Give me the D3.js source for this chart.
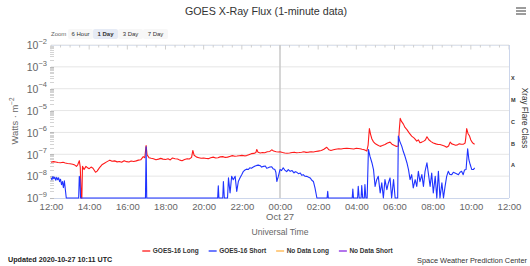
<!DOCTYPE html>
<html>
<head>
<meta charset="utf-8">
<script src="https://cdn.jsdelivr.net/npm/d3@7"></script>
<style>
  html, body { margin: 0; padding: 0; background: #fff; }
  svg { display: block; font-family: "Liberation Sans", Arial, sans-serif; }
</style>
</head>
<body>
<svg id="chart" width="530" height="266"></svg>
<script>
// GOES-16 1-minute x-ray flux (time UTC, W/m^2)
const longFlux = [
  ["12:00",4.3e-8],["12:08",4.6e-8],["12:15",4.4e-8],["12:22",4.2e-8],["12:30",4.1e-8],["12:38",4.3e-8],
  ["12:45",4.0e-8],["12:52",3.8e-8],["13:00",3.7e-8],["13:08",3.5e-8],["13:15",3.2e-8],["13:20",2.8e-8],
  ["13:24",3.3e-8],["13:29",5.1e-8],["13:32",2.6e-8],["13:35",1e-9],["13:37",1e-9],["13:39",2.8e-8],
  ["13:44",2.0e-8],["13:50",2.8e-8],["13:55",2.4e-8],["14:00",2.2e-8],["14:06",2.6e-8],["14:12",2.3e-8],
  ["14:20",1.5e-8],["14:25",1.7e-8],["14:32",2.4e-8],["14:40",3.3e-8],["14:48",3.9e-8],["14:55",4.5e-8],
  ["15:05",5.4e-8],["15:12",4.8e-8],["15:20",5.0e-8],["15:28",4.5e-8],["15:35",4.7e-8],["15:42",4.3e-8],
  ["15:50",5.1e-8],["15:58",4.6e-8],["16:05",4.4e-8],["16:12",4.9e-8],["16:20",4.7e-8],["16:28",5.0e-8],
  ["16:35",5.4e-8],["16:42",5.6e-8],["16:50",7.8e-8],["16:55",7.0e-8],["16:59",2.5e-7],["17:02",9.5e-8],
  ["17:08",7.0e-8],["17:15",6.6e-8],["17:22",6.3e-8],["17:30",5.6e-8],["17:38",6.0e-8],["17:45",6.5e-8],
  ["17:52",6.0e-8],["18:00",5.8e-8],["18:08",6.2e-8],["18:15",5.5e-8],["18:22",6.8e-8],["18:30",6.3e-8],
  ["18:38",6.1e-8],["18:45",5.4e-8],["18:52",5.1e-8],["19:00",5.8e-8],["19:08",6.3e-8],["19:15",6.1e-8],
  ["19:22",7.2e-8],["19:26",1.5e-7],["19:30",9.0e-8],["19:38",7.4e-8],["19:45",7.0e-8],["19:52",6.6e-8],
  ["20:00",6.8e-8],["20:08",6.4e-8],["20:15",6.3e-8],["20:22",6.9e-8],["20:30",7.4e-8],["20:38",6.8e-8],
  ["20:45",7.0e-8],["20:52",7.6e-8],["21:00",7.8e-8],["21:08",7.2e-8],["21:15",7.4e-8],["21:22",8.0e-8],
  ["21:30",8.7e-8],["21:38",8.1e-8],["21:45",8.3e-8],["21:52",8.6e-8],["22:00",8.9e-8],["22:08",8.5e-8],
  ["22:15",8.7e-8],["22:22",9.6e-8],["22:30",1.07e-7],["22:38",1.1e-7],["22:44",1.2e-7],["22:47",1.66e-7],
  ["22:51",1.25e-7],["22:58",1.15e-7],["23:05",1.2e-7],["23:12",1.18e-7],["23:20",1.3e-7],["23:28",1.35e-7],
  ["23:34",1.6e-7],["23:40",1.4e-7],["23:48",1.3e-7],["23:55",1.28e-7],["00:00",1.3e-7],["00:08",1.2e-7],
  ["00:15",1.15e-7],["00:22",1.12e-7],["00:30",1.15e-7],["00:38",1.2e-7],["00:45",1.25e-7],["00:52",1.18e-7],
  ["01:00",1.2e-7],["01:08",1.24e-7],["01:15",1.3e-7],["01:22",1.22e-7],["01:30",1.25e-7],["01:38",1.3e-7],
  ["01:45",1.27e-7],["01:52",1.33e-7],["02:00",1.4e-7],["02:10",1.5e-7],["02:18",1.7e-7],["02:27",2.1e-7],
  ["02:34",1.6e-7],["02:40",1.5e-7],["02:48",1.6e-7],["02:55",1.7e-7],["03:05",1.8e-7],["03:12",1.75e-7],
  ["03:20",1.85e-7],["03:30",1.9e-7],["03:38",1.85e-7],["03:45",1.8e-7],["03:52",1.75e-7],["04:00",1.9e-7],
  ["04:06",1.85e-7],["04:12",1.8e-7],["04:18",1.7e-7],["04:25",1.6e-7],["04:33",1.4e-7],["04:37",2.6e-7],
  ["04:41",1.5e-6],["04:45",8.0e-7],["04:49",5.0e-7],["04:54",3.7e-7],["05:00",3.0e-7],["05:08",2.6e-7],
  ["05:15",2.3e-7],["05:22",2.5e-7],["05:30",2.8e-7],["05:38",3.3e-7],["05:46",3.6e-7],["05:52",2.9e-7],
  ["06:00",2.5e-7],["06:06",2.3e-7],["06:12",2.4e-7],["06:15",1.3e-6],["06:18",4.4e-6],["06:22",3.2e-6],
  ["06:28",2.4e-6],["06:33",1.7e-6],["06:39",1.35e-6],["06:46",9.5e-7],["06:54",6.8e-7],["07:02",5.5e-7],
  ["07:10",4.0e-7],["07:15",4.6e-7],["07:20",3.4e-7],["07:26",3.6e-7],["07:32",4.0e-7],["07:37",4.5e-7],
  ["07:42",6.3e-7],["07:48",4.6e-7],["07:55",3.8e-7],["08:02",3.3e-7],["08:10",3.0e-7],["08:17",2.8e-7],
  ["08:23",2.8e-7],["08:30",2.6e-7],["08:37",2.4e-7],["08:44",2.1e-7],["08:50",2.4e-7],["08:55",3.6e-7],
  ["09:00",3.0e-7],["09:06",2.8e-7],["09:12",2.6e-7],["09:18",2.7e-7],["09:24",3.0e-7],["09:30",2.9e-7],
  ["09:37",2.9e-7],["09:42",3.3e-7],["09:44",5.5e-7],["09:47",1.5e-6],["09:51",9.0e-7],["09:56",6.8e-7],
  ["10:00",4.5e-7],["10:04",3.6e-7],["10:08",3.1e-7],["10:12",2.9e-7]
];

const shortFlux = [
  ["12:00",8.3e-9],["12:03",6.9e-9],["12:06",9.5e-9],["12:09",7.6e-9],["12:12",9.0e-9],["12:15",6.5e-9],
  ["12:18",8.8e-9],["12:21",6.9e-9],["12:24",8.4e-9],["12:27",5.6e-9],["12:30",7.2e-9],["12:33",4.1e-9],
  ["12:36",5.6e-9],["12:39",3.0e-9],["12:42",6.1e-9],["12:45",2.5e-9],["12:48",1e-9],["13:27",1e-9],
  ["13:29",9.8e-9],["13:31",6.9e-9],["13:33",1e-9],["16:57",1e-9],["16:59",2.2e-7],["17:01",1e-9],
  ["20:44",1e-9],["20:46",3.6e-9],["20:48",1e-9],["21:00",1e-9],["21:02",5.7e-9],["21:05",1e-9],
  ["21:15",1e-9],["21:18",8.3e-9],["21:23",1.7e-9],["21:28",9.8e-9],["21:33",6.9e-9],["21:39",9.8e-9],
  ["21:44",2.0e-9],["21:49",5.7e-9],["21:54",8.3e-9],["22:00",1.2e-8],["22:05",1.66e-8],["22:10",1.9e-8],
  ["22:15",2.1e-8],["22:20",2.0e-8],["22:25",2.4e-8],["22:30",2.3e-8],["22:36",2.6e-8],["22:42",2.9e-8],
  ["22:47",3.1e-8],["22:52",3.2e-8],["22:58",3.0e-8],["23:02",2.6e-8],["23:08",2.8e-8],["23:14",2.9e-8],
  ["23:18",2.3e-8],["23:23",2.4e-8],["23:28",2.6e-8],["23:34",2.7e-8],["23:38",2.2e-8],["23:44",2.0e-8],
  ["23:47",1.5e-8],["23:50",5.7e-9],["23:55",1.0e-8],["00:00",2.0e-8],["00:05",1.8e-8],["00:10",2.4e-8],
  ["00:15",1.9e-8],["00:21",1.6e-8],["00:26",2.0e-8],["00:32",1.66e-8],["00:38",1.8e-8],["00:44",1.4e-8],
  ["00:48",1.6e-8],["00:53",1.5e-8],["00:58",1.3e-8],["01:04",1.4e-8],["01:08",1.1e-8],["01:13",1.17e-8],
  ["01:18",1.0e-8],["01:24",9.8e-9],["01:30",9.0e-9],["01:35",8.3e-9],["01:40",6.5e-9],["01:45",5.7e-9],
  ["01:50",2.9e-9],["01:56",1e-9],["02:28",1e-9],["02:30",2.0e-9],["02:32",1e-9],["03:47",1e-9],
  ["03:49",2.6e-9],["03:51",1e-9],["04:04",1e-9],["04:06",3.4e-9],["04:09",1e-9],["04:15",1e-9],
  ["04:17",3.7e-9],["04:20",1e-9],["04:25",1e-9],["04:27",4.1e-9],["04:30",1e-9],["04:34",1e-9],
  ["04:38",1.66e-7],["04:43",8.0e-8],["04:49",4.1e-8],["04:54",2.0e-8],["04:59",3.4e-9],["05:04",6.9e-9],
  ["05:09",9.8e-9],["05:15",1.7e-9],["05:20",4.9e-9],["05:25",1e-9],["05:30",6.9e-9],["05:36",2.4e-9],
  ["05:41",5.0e-9],["05:46",8.3e-9],["05:51",1e-9],["05:57",6.9e-9],["06:02",1e-9],["06:10",1e-9],
  ["06:12",6.8e-7],["06:17",3.8e-7],["06:23",2.3e-7],["06:28",1.3e-7],["06:33",8.1e-8],["06:39",4.1e-8],
  ["06:44",2.0e-8],["06:49",6.9e-9],["06:54",1.17e-8],["06:59",2.9e-9],["07:05",6.9e-9],["07:10",3.4e-9],
  ["07:15",1.66e-8],["07:20",5.6e-9],["07:26",1.17e-8],["07:31",3.4e-9],["07:36",1.66e-8],["07:42",4.1e-8],
  ["07:47",1.17e-8],["07:52",3.4e-9],["07:57",1.4e-8],["08:02",1.7e-9],["08:08",9.8e-9],["08:13",1e-9],
  ["08:18",1.66e-8],["08:23",1e-9],["08:29",4.9e-9],["08:34",1e-9],["08:39",3.4e-9],["08:44",9.8e-9],
  ["08:49",1.66e-8],["08:54",1.2e-8],["09:00",1.17e-8],["09:05",1.5e-8],["09:10",1.4e-8],["09:15",1.3e-8],
  ["09:21",1.17e-8],["09:26",1.5e-8],["09:31",1.66e-8],["09:36",1.17e-8],["09:40",1.9e-8],["09:45",2.0e-8],
  ["09:50",1.8e-7],["09:54",5.5e-8],["09:58",3.4e-8],["10:03",2.0e-8],["10:08",2.0e-8],["10:12",2.4e-8]
];

const decadeExponents = [-9, -8, -7, -6, -5, -4, -3, -2];
const flareClasses = ["A", "B", "C", "M", "X"];      // class lower bound 1e-8 .. 1e-4
const flareLowerExp = [-8, -7, -6, -5, -4];
const legendNames = ["GOES-16 Long", "GOES-16 Short", "No Data Long", "No Data Short"];
const zoomButtons = ["6 Hour", "1 Day", "3 Day", "7 Day"];
const selectedZoom = "1 Day";

// ---------- setup ----------
const svg = d3.select("#chart");
const P = { l: 51, r: 509, t: 45, b: 198 };
const start = Date.UTC(2020, 9, 26, 12);
const parseT = (s) => {
  const [h, m] = s.split(":").map(Number);
  return new Date(Date.UTC(2020, 9, h < 12 ? 27 : 26, h, m));
};

const x = d3.scaleUtc().domain([new Date(start), new Date(start + 864e5)]).range([P.l, P.r]);
const y = d3.scaleLog().domain([1e-9, 1e-2]).range([P.b, P.t]);

const seriesColor = { "GOES-16 Long": "#ff1a1a", "GOES-16 Short": "#1f33ff", "No Data Long": "#ffb347", "No Data Short": "#8a2be2" };

// title + menu
svg.append("text").attr("x", 266).attr("y", 15).attr("text-anchor", "middle")
  .attr("font-size", 10.7).attr("fill", "#333").text("GOES X-Ray Flux (1-minute data)");
[8, 11, 14].forEach((yy) =>
  svg.append("line").attr("x1", 516).attr("x2", 526).attr("y1", yy).attr("y2", yy).attr("stroke", "#666").attr("stroke-width", 1.3));

// zoom buttons
svg.append("text").attr("x", 51).attr("y", 36).attr("font-size", 6).attr("fill", "#666").text("Zoom");
let bx = 68;
zoomButtons.forEach((b) => {
  const sel = b === selectedZoom;
  const w = 25;
  svg.append("rect").attr("x", bx).attr("y", 29).attr("width", w).attr("height", 10).attr("rx", 2)
    .attr("fill", sel ? "#e6ebf5" : "#f7f7f7");
  svg.append("text").attr("x", bx + w / 2).attr("y", 36).attr("text-anchor", "middle").attr("font-size", 6)
    .attr("font-weight", sel ? "bold" : "normal").attr("fill", "#333").text(b);
  bx += w;
});

// ---------- grid + frame ----------
const grid = svg.append("g");
decadeExponents.filter((e) => e > -9).forEach((e) => {
  grid.append("line").attr("x1", P.l).attr("x2", P.r).attr("y1", y(10 ** e)).attr("y2", y(10 ** e))
    .attr("stroke", "#e6e6e6");
});
// top edge with half-hour ticks
grid.append("line").attr("x1", P.l).attr("x2", P.r).attr("y1", P.t + 0.5).attr("y2", P.t + 0.5).attr("stroke", "#dde3ee");
x.ticks(d3.utcMinute.every(30)).forEach((d) => {
  const long = d.getUTCMinutes() === 0 && d.getUTCHours() % 2 === 0;
  grid.append("line").attr("x1", x(d)).attr("x2", x(d)).attr("y1", P.t).attr("y2", P.t + (long ? 4.5 : 2.5))
    .attr("stroke", "#cfcfcf");
});
// right edge + bottom axis line
grid.append("line").attr("x1", P.r + 0.5).attr("x2", P.r + 0.5).attr("y1", P.t).attr("y2", P.b).attr("stroke", "#ccd6eb");
grid.append("line").attr("x1", P.l).attr("x2", P.r).attr("y1", P.b + 0.5).attr("y2", P.b + 0.5).attr("stroke", "#ccd6eb");
// left minor ticks
decadeExponents.slice(0, -1).forEach((e) => {
  d3.range(1, 10).forEach((k) => {
    const yy = Math.round(y(k * 10 ** e)) + 0.5;
    grid.append("line").attr("x1", P.l - 1).attr("x2", P.l + 3).attr("y1", yy).attr("y2", yy)
      .attr("stroke", k === 1 ? "#bbb" : "#d4d4d4");
  });
});
// midnight marker
grid.append("line").attr("x1", x(parseT("00:00"))).attr("x2", x(parseT("00:00")))
  .attr("y1", P.t).attr("y2", P.b).attr("stroke", "#c8c8c8").attr("stroke-width", 1.5);

// ---------- axes ----------
const xAxis = svg.append("g").attr("transform", `translate(0,${P.b})`)
  .call(d3.axisBottom(x).ticks(d3.utcHour.every(2)).tickSize(0).tickPadding(5).tickFormat(d3.utcFormat("%H:%M")));
xAxis.select(".domain").remove();
xAxis.selectAll("text").attr("font-size", 9.5).attr("fill", "#666").attr("font-family", null);
svg.append("text").attr("x", x(parseT("00:00"))).attr("y", 219.5).attr("text-anchor", "middle")
  .attr("font-size", 9.5).attr("fill", "#666").text("Oct 27");
svg.append("text").attr("x", 280).attr("y", 234.5).attr("text-anchor", "middle")
  .attr("font-size", 8.6).attr("fill", "#666").text("Universal Time");

const yAxis = svg.append("g").attr("transform", `translate(${P.l - 4},0)`)
  .call(d3.axisLeft(y).tickValues(decadeExponents.map((e) => 10 ** e)).tickSize(0).tickPadding(0).tickFormat(() => ""));
yAxis.select(".domain").remove();
yAxis.selectAll(".tick").each(function (d) {
  const t = d3.select(this).select("text").attr("font-size", 10.5).attr("fill", "#666").attr("dy", "0.36em").attr("font-family", null);
  t.append("tspan").text("10");
  t.append("tspan").attr("font-size", 7.5).attr("dy", "-0.75em").text("−" + Math.abs(Math.round(Math.log10(d))));
});

const yT = svg.append("text").attr("transform", "translate(18,121) rotate(-90)").attr("text-anchor", "middle")
  .attr("font-size", 9.4).attr("fill", "#666");
yT.append("tspan").text("Watts · m");
yT.append("tspan").attr("font-size", 6.4).attr("dy", "-0.6em").text("−2");

const rAxis = svg.append("g").attr("transform", `translate(${P.r + 2},0)`)
  .call(d3.axisRight(y).tickValues(flareLowerExp.map((e) => 10 ** (e + 0.5))).tickSize(0).tickPadding(0)
    .tickFormat((d, i) => flareClasses[i]));
rAxis.select(".domain").remove();
rAxis.selectAll("text").attr("font-size", 5.5).attr("font-weight", "bold").attr("fill", "#333").attr("font-family", null);
svg.append("text").attr("transform", "translate(522,118) rotate(90)").attr("text-anchor", "middle")
  .attr("font-size", 8.2).attr("fill", "#333").text("Xray Flare Class");

// ---------- series ----------
svg.append("clipPath").attr("id", "plotclip").append("rect")
  .attr("x", P.l).attr("y", P.t - 2).attr("width", P.r - P.l).attr("height", P.b - P.t + 3);
const line = d3.line().x((d) => x(parseT(d[0]))).y((d) => y(d[1]));
const series = svg.append("g").attr("clip-path", "url(#plotclip)");
series.append("path").datum(longFlux).attr("d", line).attr("fill", "none")
  .attr("stroke", seriesColor["GOES-16 Long"]).attr("stroke-width", 1.1).attr("stroke-linejoin", "round");
series.append("path").datum(shortFlux).attr("d", line).attr("fill", "none")
  .attr("stroke", seriesColor["GOES-16 Short"]).attr("stroke-width", 1.1).attr("stroke-linejoin", "round");

// ---------- legend ----------
const lg = svg.append("g");
let lx = 0;
legendNames.forEach((n) => {
  const it = lg.append("g").attr("transform", `translate(${lx},0)`);
  it.append("line").attr("x1", 0).attr("x2", 8).attr("y1", 251).attr("y2", 251)
    .attr("stroke", seriesColor[n]).attr("stroke-width", 1.3);
  const tx = it.append("text").attr("x", 10.5).attr("y", 253.3).attr("font-size", 6.5).attr("font-weight", "bold")
    .attr("fill", "#333").text(n);
  lx += 10.5 + tx.node().getComputedTextLength() + 10;
});
lg.attr("transform", `translate(${267.5 - (lx - 10) / 2},0)`);

// footer
svg.append("text").attr("x", 8).attr("y", 261.5).attr("font-size", 7.2).attr("font-weight", "bold")
  .attr("fill", "#222").text("Updated 2020-10-27 10:11 UTC");
svg.append("text").attr("x", 527).attr("y", 263).attr("text-anchor", "end").attr("font-size", 7.4)
  .attr("fill", "#333").text("Space Weather Prediction Center");
</script>
</body>
</html>
